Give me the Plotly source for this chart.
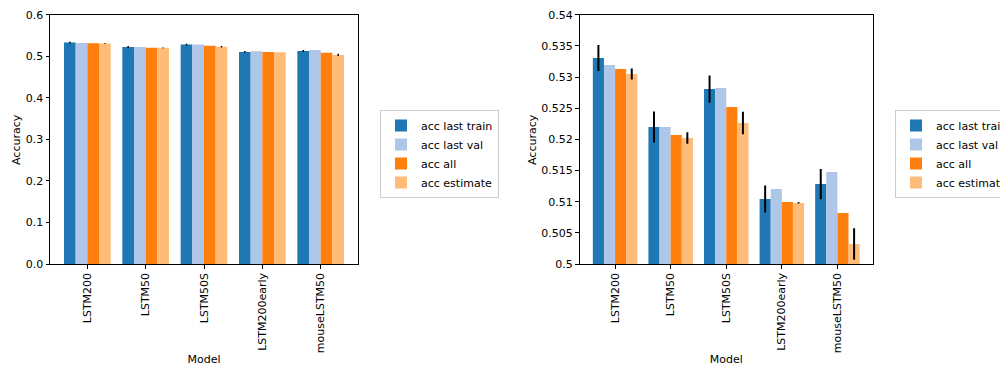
import plotly.graph_objects as go

models = ["LSTM200", "LSTM50", "LSTM50S", "LSTM200early", "mouseLSTM50"]
series_names = ["acc last train", "acc last val", "acc all", "acc estimate"]
colors = ["#1f77b4", "#aec7e8", "#ff7f0e", "#ffbb78"]

acc_last_train = [0.53305, 0.52198, 0.52807, 0.51043, 0.51283]
acc_last_val = [0.53193, 0.52198, 0.52824, 0.51203, 0.51476]
acc_all = [0.53128, 0.52070, 0.52519, 0.50995, 0.50818]
acc_estimate = [0.53048, 0.52021, 0.52262, 0.50979, 0.50321]

err_last_train = [0.00209, 0.00249, 0.00219, 0.00217, 0.00243]
err_last_val = [0, 0, 0, 0, 0]
err_all = [0, 0, 0, 0, 0]
err_estimate = [0.00088, 0.00091, 0.00179, 0.0001, 0.00251]

values = [acc_last_train, acc_last_val, acc_all, acc_estimate]
errors = [err_last_train, err_last_val, err_all, err_estimate]

right_ticks = [0.5, 0.505, 0.51, 0.515, 0.52, 0.525, 0.53, 0.535, 0.54]
right_ticktext = ["0.5", "0.505", "0.51", "0.515", "0.52", "0.525", "0.53", "0.535", "0.54"]

fig = go.Figure()
FONT = dict(family="DejaVu Sans", size=11, color="black")

for panel, (xa, ya, leg) in enumerate([("x", "y", "legend"), ("x2", "y2", "legend2")]):
    for name, col, vals, errs in zip(series_names, colors, values, errors):
        show_err = any(e > 0 for e in errs)
        fig.add_trace(go.Bar(
            x=models, y=vals, name=name, marker=dict(color=col, line=dict(width=0)),
            error_y=dict(type="data", array=errs, visible=show_err, color="black",
                         thickness=2 if panel == 1 else 1.5, width=0),
            xaxis=xa, yaxis=ya, legend=leg,
        ))

# canvas slightly wider than the 1000px window so the right legend is cut at the edge
W, H = 1050.0, 366.0
ydom = [(H - 264) / H, (H - 14.7) / H]
axis_common = dict(showline=True, linecolor="black", linewidth=1, mirror=True,
                   ticks="outside", ticklen=3.5, tickcolor="black", tickwidth=1,
                   showgrid=False, zeroline=False, tickfont=FONT, automargin=False)

fig.update_layout(
    width=W, height=H, margin=dict(l=0, r=0, t=0, b=0),
    paper_bgcolor="white", plot_bgcolor="white", font=FONT,
    barmode="group", bargap=0.2, bargroupgap=0,
    xaxis=dict(domain=[50 / W, 358 / W], anchor="y", tickangle=-90, range=[-0.64, 4.64],
               title=dict(text="Model", font=FONT), **axis_common),
    yaxis=dict(domain=ydom, anchor="x", range=[0, 0.6], dtick=0.1, tickformat=".1f",
               **axis_common),
    xaxis2=dict(domain=[579.5 / W, 873 / W], anchor="y2", tickangle=-90, range=[-0.64, 4.64],
                title=dict(text="Model", font=FONT), **axis_common),
    yaxis2=dict(domain=ydom, anchor="x2", range=[0.5, 0.54], tickmode="array",
                tickvals=right_ticks, ticktext=right_ticktext, **axis_common),
    legend=dict(x=380 / W, y=(H - 110) / H, xanchor="left", yanchor="top",
                bordercolor="#cccccc", borderwidth=1, bgcolor="white", font=FONT,
                tracegroupgap=0),
    legend2=dict(x=895 / W, y=(H - 110) / H, xanchor="left", yanchor="top",
                 bordercolor="#cccccc", borderwidth=1, bgcolor="white", font=FONT,
                 tracegroupgap=0),
)

for xpix in (16, 532):
    fig.add_annotation(text="Accuracy", xref="paper", yref="paper",
                       x=xpix / W, y=(H - 140) / H, xanchor="center", yanchor="middle",
                       textangle=-90, showarrow=False, font=FONT)

fig.write_html("out.html", config={"displayModeBar": False},
               post_script="document.body.style.margin='0px';document.body.style.overflow='hidden';")
